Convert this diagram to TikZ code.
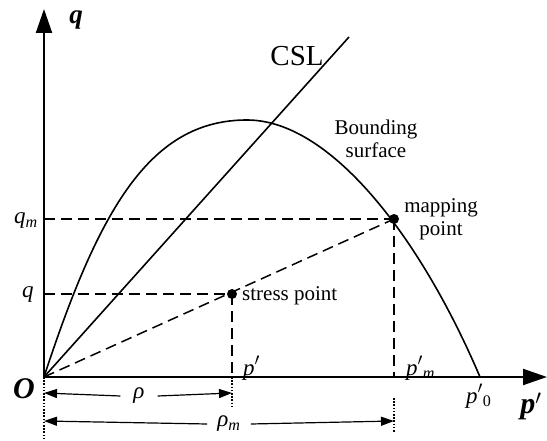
\documentclass[tikz,border=0pt]{standalone}
\usepackage{fontspec}
\setmainfont{Liberation Serif}
\usetikzlibrary{arrows.meta}
\begin{document}
\begin{tikzpicture}[x=1pt,y=-1pt,
  axisline/.style={line width=2pt, -{Triangle[length=24pt,width=16pt]}},
  curveline/.style={line width=1.6pt},
  dashline/.style={line width=1.5pt, dash pattern=on 11pt off 6pt},
  dotline/.style={line width=1.3pt, dash pattern=on 1.6pt off 1.6pt},
  dimarrow/.style={line width=1.2pt, -{Triangle[length=13pt,width=9pt]}},
  dotpt/.style={circle, fill, inner sep=0pt, minimum size=10pt},
  lbl/.style={font=\fontsize{21}{23}\selectfont, inner sep=0pt},
  symlbl/.style={font=\fontsize{23}{25}\selectfont\itshape, inner sep=0pt},
  biglbl/.style={font=\fontsize{30}{32}\selectfont\bfseries\itshape, inner sep=0pt}]
\useasboundingbox (0,0) rectangle (547,441);

% key points
\coordinate (O) at (44,377);
\coordinate (qtip) at (44,9);
\coordinate (ptip) at (547,377);
\coordinate (S) at (232,294);
\coordinate (M) at (394,219);
\coordinate (Sx) at (232,377);
\coordinate (Mx) at (394,377);
\coordinate (Sq) at (44,294);
\coordinate (Mq) at (44,219);
\coordinate (CSLend) at (349,37);
\coordinate (Peak) at (247,120);
\coordinate (P0) at (480,377);
\coordinate (Odot) at (44,441);
\coordinate (Sdot) at (232,407);
\coordinate (Mdot0) at (394,398);
\coordinate (Mdot) at (394,433);

% axes
\draw[axisline] (O) -- (qtip);
\draw[axisline] (O) -- (ptip);

% CSL
\draw[curveline] (O) -- (CSLend);

% bounding surface
\draw[curveline] (O) .. controls (99,209) and (150,120) .. (Peak)
                     .. controls (330,120) and (420,236) .. (P0);

% dashed lines
\draw[dashline] (Mq) -- (M);
\draw[dashline] (Sq) -- (S);
\draw[dashline] (O) -- (M);
\draw[dashline] (S) -- (Sx);
\draw[dashline] (M) -- (Mx);

% dotted lines
\draw[dotline] (O) -- (Odot);
\draw[dotline] (Sx) -- (Sdot);
\draw[dotline] (Mdot0) -- (Mdot);

% points
\node[dotpt] (Sp) at (S) {};
\node[dotpt] (Mp) at (M) {};

% dimension arrows
\node[symlbl, inner xsep=13pt] (rho) at (139,396) {ρ};
\draw[dimarrow] (rho.west) -- (O |- 0,393);
\draw[dimarrow] (rho.east) -- (Sx |- 0,393);
\node[symlbl, inner xsep=10pt] (rhom) at (229,424) {ρ\textsubscript{m}};
\draw[dimarrow] (rhom.west) -- (O |- 0,421);
\draw[dimarrow] (rhom.east) -- (Mx |- 0,421);

% labels
\node[biglbl, font=\fontsize{27}{29}\selectfont\bfseries\itshape, anchor=base] (qlab) at (76,24) {q};
\node[biglbl] (Olab) at (24,389) {O};
\node[biglbl] (plab) at (531,406) {p$'$};
\node[symlbl] (qmlab) at (26,221) {q\textsubscript{m}};
\node[symlbl] (qslab) at (28,295) {q};
\node[symlbl, anchor=base west] (pslab) at (243,375) {p$'$};
\node[symlbl, anchor=base west] (pmlab) at (406,375) {p$'$\textsubscript{m}};
\node[symlbl, anchor=base west] (p0lab) at (466,403) {p$'$\textsubscript{\upshape 0}};
\node[font=\fontsize{29}{31}\selectfont, inner sep=0pt] (csl) at (297,56) {CSL};
\node[lbl, align=center] (bs) at (376,139) {Bounding\\surface};
\node[lbl, align=center] (mp) at (441,219) {mapping\\point};
\node[lbl, anchor=west] (sp) at (242,296) {stress point};
\end{tikzpicture}
\end{document}
